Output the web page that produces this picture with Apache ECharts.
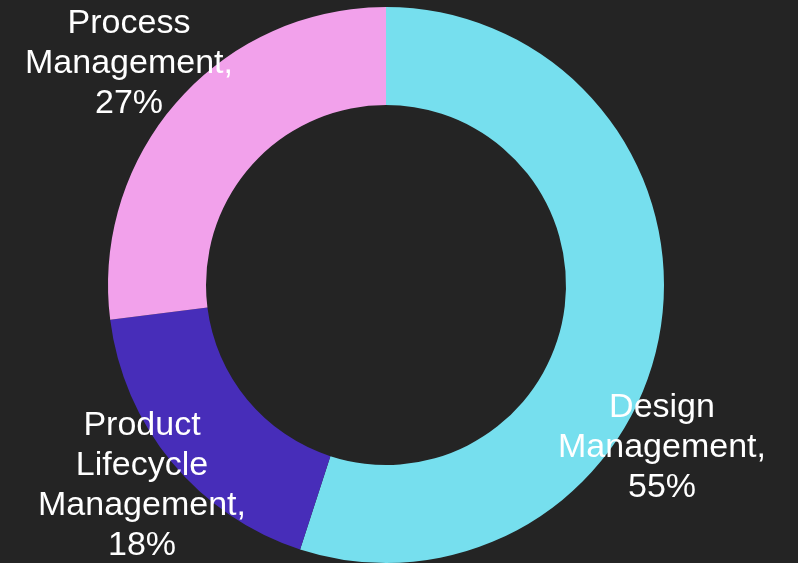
<!DOCTYPE html>
<html>
<head>
<meta charset="utf-8">
<script src="https://cdn.jsdelivr.net/npm/echarts@6/dist/echarts.min.js"></script>
<style>
html,body{margin:0;padding:0;background:#242424;}
#chart{width:798px;height:563px;}
</style>
</head>
<body>
<div id="chart"></div>
<script>
const categories = ["Design Management", "Product Lifecycle Management", "Process Management"];
const labelText = ["Design\nManagement,", "Product\nLifecycle\nManagement,", "Process\nManagement,"];
const values = [55, 18, 27];
const colors = ["#76DFEE", "#472DB9", "#F2A1EB"];
const labelPos = [[662, 448], [142, 486], [129, 64]];

const chart = echarts.init(document.getElementById('chart'));
chart.setOption({
  backgroundColor: '#242424',
  animation: false,
  series: [{
    type: 'pie',
    center: [386, 285],
    radius: [180, 278],
    startAngle: 90,
    clockwise: true,
    avoidLabelOverlap: false,
    data: categories.map((c, i) => ({
      name: c,
      value: values[i],
      itemStyle: { color: colors[i] }
    })),
    itemStyle: { borderWidth: 0 },
    label: {
      show: true,
      position: 'inside',
      color: '#ffffff',
      fontFamily: 'Liberation Sans, Arial, sans-serif',
      fontSize: 34,
      lineHeight: 40,
      align: 'center',
      formatter: p => labelText[p.dataIndex] + '\n' + p.value + '%'
    },
    labelLine: { show: false },
    labelLayout: p => ({
      x: labelPos[p.dataIndex][0],
      y: labelPos[p.dataIndex][1],
      align: 'center',
      verticalAlign: 'middle'
    })
  }]
});
</script>
</body>
</html>
